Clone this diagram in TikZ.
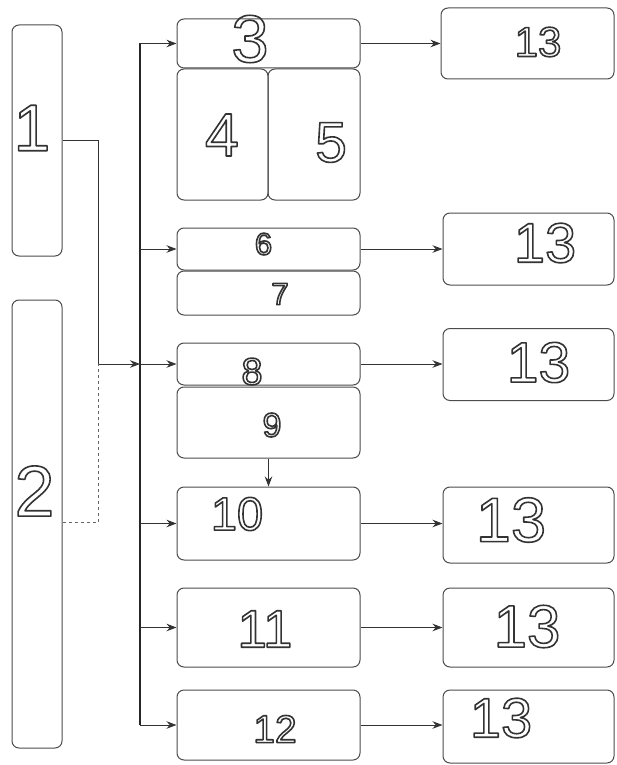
\documentclass[tikz,border=0pt]{standalone}
\usepackage{fontspec}
\setmainfont{Liberation Sans}
\usetikzlibrary{arrows.meta}
\newcommand{\hollow}[1]{\special{pdf:literal direct 1 Tr 1.6 w 1 j}\textcolor{black!80}{#1}\special{pdf:literal direct 0 Tr}}
\tikzset{
  blk/.style={draw=black!70, line width=1pt, rounded corners=7pt, inner sep=0pt},
  num/.style={inner sep=0pt, font=\fontsize{#1}{#1}\selectfont},
  link/.style={draw=black!80, line width=0.9pt, -{Stealth[length=10pt,width=7.5pt]}},
}

\begin{document}
\begin{tikzpicture}[x=1pt,y=-1pt]
    \useasboundingbox (0,0) rectangle (617,765);
    % left blocks
    \node[blk, minimum width=50pt, minimum height=231pt] (b1) at (37,140.5) {};
    \node[blk, minimum width=50pt, minimum height=448pt] (b2) at (37,524) {};
    % middle column
    \node[blk, minimum width=183pt, minimum height=49pt] (b3) at (268.5,43.5) {};
    \node[blk, minimum width=91pt, minimum height=131pt] (b4) at (222.5,134.5) {};
    \node[blk, minimum width=92pt, minimum height=131pt] (b5) at (314,134.5) {};
    \node[blk, minimum width=183pt, minimum height=42pt] (b6) at (268.5,249) {};
    \node[blk, minimum width=183pt, minimum height=44pt] (b7) at (268.5,293) {};
    \node[blk, minimum width=183pt, minimum height=42pt] (b8) at (268.5,364) {};
    \node[blk, minimum width=183pt, minimum height=71pt] (b9) at (268.5,422.5) {};
    \node[blk, minimum width=183pt, minimum height=73pt] (b10) at (268.5,523.5) {};
    \node[blk, minimum width=183pt, minimum height=79pt] (b11) at (268.5,627.5) {};
    \node[blk, minimum width=183pt, minimum height=70pt] (b12) at (268.5,725) {};
    % right column
    \node[blk, minimum width=173pt, minimum height=71pt] (r3) at (527.5,43.5) {};
    \node[blk, minimum width=171pt, minimum height=72pt] (r6) at (528.5,249) {};
    \node[blk, minimum width=171pt, minimum height=72pt] (r8) at (528.5,364.5) {};
    \node[blk, minimum width=171pt, minimum height=76pt] (r10) at (528.5,525) {};
    \node[blk, minimum width=171pt, minimum height=79pt] (r11) at (528.5,627.5) {};
    \node[blk, minimum width=171pt, minimum height=73pt] (r12) at (528.5,726.5) {};

    % numbers
    \node[num=66] (t1) at (32,128) {\hollow{1}};
    \node[num=72] (t2) at (34.5,491) {\hollow{2}};
    \node[num=67] (t3) at (250,39) {\hollow{3}};
    \node[num=61] (t4) at (222,135) {\hollow{4}};
    \node[num=57] (t5) at (331,142.5) {\hollow{5}};
    \node[num=31] (t6) at (263.5,244) {\hollow{6}};
    \node[num=31] (t7) at (280,294) {\hollow{7}};
    \node[num=38] (t8) at (252,371.5) {\hollow{8}};
    \node[num=34] (t9) at (272,425) {\hollow{9}};
    \node[num=47] (t10) at (237,514) {\hollow{10}};
    \node[num=53] (t11) at (265,629) {\hollow{11}};
    \node[num=39] (t12) at (275,729) {\hollow{12}};
    \node[num=42] (s3) at (538,42) {\hollow{13}};
    \node[num=56] (s6) at (545,243) {\hollow{13}};
    \node[num=57] (s8) at (538.5,362.5) {\hollow{13}};
    \node[num=63] (s10) at (511,520) {\hollow{13}};
    \node[num=60] (s11) at (527,626.5) {\hollow{13}};
    \node[num=56] (s12) at (501,718) {\hollow{13}};

    % bus
    \coordinate (top) at (140,43.5);
    \coordinate (bot) at (140,725);
    \coordinate (in) at (140,364);
    \coordinate (k1) at (98,140.5);
    \coordinate (k2) at (98,364);
    \coordinate (k3) at (98,522);
    \draw[black!85, line width=1.2pt] (top) -- (bot);
    \draw[link] (b1.east) -- (k1) -- (k2) -- (in);
    \draw[black!60, line width=0.9pt, dashed] (b2.east |- k3) -- (k3) -- (k2);
    \foreach \b in {b3,b6,b8,b10,b11,b12}
        \draw[link] (top |- \b.west) -- (\b.west);
    % outputs
    \draw[link] (b3.east) -- (r3.west);
    \draw[link] (b6.east) -- (r6.west);
    \draw[link] (b8.east) -- (b8.east -| r8.west);
    \draw[link] (b10.east) -- (b10.east -| r10.west);
    \draw[link] (b11.east) -- (r11.west);
    \draw[link] (b12.east) -- (b12.east -| r12.west);
    \draw[link] (b9.south) -- (b10.north);
\end{tikzpicture}
\end{document}
